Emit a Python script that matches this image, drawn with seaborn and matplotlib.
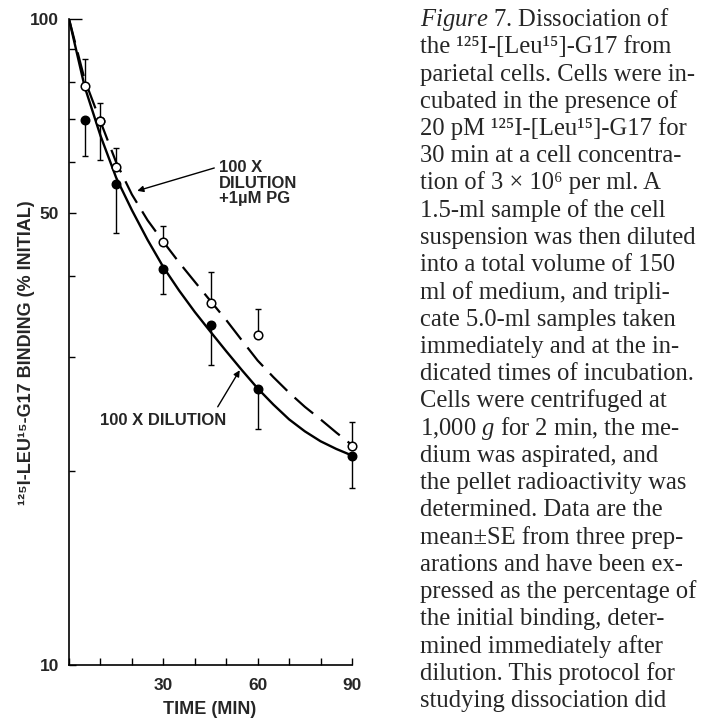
import numpy as np
import pandas as pd
import matplotlib
matplotlib.use('Agg')
import matplotlib.pyplot as plt
import seaborn as sns
from matplotlib.ticker import FixedLocator, FixedFormatter, NullFormatter

# measured points, time in min, binding in % of initial
time_pts = [5, 10, 15, 30, 45, 60, 90]
pg_mean = [78.8, 69.4, 59.0, 45.2, 36.4, 32.4, 21.8]      # 100x dilution + 1 uM PG (open)
pg_err_up = [7.8, 4.6, 4.1, 2.6, 4.2, 3.2, 2.0]
dil_mean = [69.8, 69.4, 55.5, 41.0, 33.6, 26.7, 21.1]     # 100x dilution (filled)
dil_err_dn = [8.4, 8.9, 8.9, 3.5, 4.5, 3.5, 2.3]

# fitted curves
fit_time = [0, 5, 10, 15, 20, 25, 30, 35, 40, 45, 50, 55, 60, 65, 70, 75, 80, 85, 90]
fit_dil = [100, 78.5, 66.0, 56.8, 50.6, 45.5, 41.3, 38.0, 35.2, 32.8, 30.6, 28.6,
           26.8, 25.3, 24.0, 23.0, 22.2, 21.6, 21.1]
fit_pg = [100, 80.5, 69.4, 60.0, 53.5, 48.8, 45.2, 42.0, 39.2, 36.6, 34.2, 31.8,
          29.6, 27.9, 26.4, 25.1, 24.0, 22.9, 21.9]

xticks = [0, 10, 20, 30, 40, 50, 60, 70, 80, 90]
xticklabels = ['', '', '', '30', '', '', '60', '', '', '90']
yticks = [10, 50, 100]
yminor = [20, 30, 40, 60, 70, 80, 90]

caption = [
    r'$\mathit{Figure\ 7}$. Dissociation of',
    'the ¹²⁵I-[Leu¹⁵]-G17 from',
    'parietal cells. Cells were in-',
    'cubated in the presence of',
    '20 pM ¹²⁵I-[Leu¹⁵]-G17 for',
    '30 min at a cell concentra-',
    'tion of 3 × 10⁶ per ml. A',
    '1.5-ml sample of the cell',
    'suspension was then diluted',
    'into a total volume of 150',
    'ml of medium, and tripli-',
    'cate 5.0-ml samples taken',
    'immediately and at the in-',
    'dicated times of incubation.',
    'Cells were centrifuged at',
    r'1,000 $\mathit{g}$ for 2 min, the me-',
    'dium was aspirated, and',
    'the pellet radioactivity was',
    'determined. Data are the',
    'mean±SE from three prep-',
    'arations and have been ex-',
    'pressed as the percentage of',
    'the initial binding, deter-',
    'mined immediately after',
    'dilution. This protocol for',
    'studying dissociation did',
]

sns.set_style('ticks')
plt.rcParams['font.family'] = ['Liberation Sans', 'DejaVu Sans']
plt.rcParams['mathtext.fontset'] = 'custom'
plt.rcParams['mathtext.rm'] = 'Liberation Serif'
plt.rcParams['mathtext.it'] = 'Liberation Serif:italic'

W, H = 702, 719
fig = plt.figure(figsize=(W / 100, H / 100), dpi=100)
ax = fig.add_axes([69 / W, 1 - 665 / H, (352 - 69) / W, (665 - 19) / H])

sns.lineplot(x=fit_time, y=fit_dil, ax=ax, color='black', linewidth=1.7, zorder=2)
sns.lineplot(x=fit_time, y=fit_pg, ax=ax, color='black', linewidth=1.6,
             linestyle=(0, (11, 4.5)), zorder=2)

zeros = np.zeros(len(time_pts))
ax.errorbar(time_pts, dil_mean, yerr=[dil_err_dn, zeros], fmt='none', ecolor='black',
            elinewidth=1.0, capsize=2.5, capthick=1.0, zorder=3, clip_on=False)
ax.errorbar(time_pts, pg_mean, yerr=[zeros, pg_err_up], fmt='none', ecolor='black',
            elinewidth=1.0, capsize=2.5, capthick=1.0, zorder=3, clip_on=False)
sns.scatterplot(x=time_pts, y=dil_mean, ax=ax, s=38, color='black', edgecolor='black',
                linewidth=1.0, zorder=4, legend=False, clip_on=False)
sns.scatterplot(x=time_pts, y=pg_mean, ax=ax, s=38, color='white', edgecolor='black',
                linewidth=1.1, zorder=5, legend=False, clip_on=False)

ax.set_yscale('log')
ax.set_xlim(0, 90)
ax.set_ylim(10, 100)
ax.xaxis.set_major_locator(FixedLocator(xticks))
ax.xaxis.set_major_formatter(FixedFormatter(xticklabels))
ax.yaxis.set_major_locator(FixedLocator(yticks))
ax.yaxis.set_major_formatter(FixedFormatter([str(v) for v in yticks]))
ax.yaxis.set_minor_locator(FixedLocator(yminor))
ax.yaxis.set_minor_formatter(NullFormatter())
ax.tick_params(axis='both', which='both', direction='in', color='black', width=1.0)
ax.tick_params(axis='x', which='major', length=5, pad=9, labelsize=12.5)
ax.tick_params(axis='y', which='major', length=5, pad=7, labelsize=12.5)
ax.tick_params(axis='y', which='minor', length=4)
# the tick at 100 is drawn longer in the original
ax.yaxis.get_major_ticks()[2].tick1line.set_markersize(9)
for lab in ax.get_xticklabels() + ax.get_yticklabels():
    lab.set_fontweight('bold')
for side in ['top', 'right']:
    ax.spines[side].set_visible(False)
for side in ['left', 'bottom']:
    ax.spines[side].set_linewidth(1.2)
    ax.spines[side].set_color('black')
ax.set_xlabel('')
ax.set_ylabel('')

# curve labels
arrow = dict(arrowstyle='-|>', color='black', lw=1.0, mutation_scale=9, shrinkA=0, shrinkB=0)
ax.annotate('', xy=(21.7, 54.2), xytext=(46.2, 58.8), arrowprops=arrow)
ax.text(47.8, 60.5, '100 X\nDILUTION\n+1µM PG', ha='left', va='top', fontsize=12,
        fontweight='bold', linespacing=1.05)
ax.annotate('', xy=(54.3, 28.6), xytext=(47.3, 25.1), arrowprops=arrow)
ax.text(10, 23.9, '100 X DILUTION', ha='left', va='center', fontsize=12, fontweight='bold')

fig.text(27 / W, 1 - 353 / H, '¹²⁵I-LEU¹⁵-G17 BINDING (% INITIAL)', rotation=90,
         ha='center', va='center', fontsize=13, fontweight='bold')
fig.text(210 / W, 1 - 710 / H, 'TIME (MIN)', ha='center', va='center',
         fontsize=13, fontweight='bold')

for i, line in enumerate(caption):
    fig.text(420 / W, 1 - (26 + 27.25 * i) / H, line, ha='left', va='baseline',
             fontsize=17.7, family=['Liberation Serif', 'DejaVu Serif'])

fig.savefig('out.png', dpi=100)
